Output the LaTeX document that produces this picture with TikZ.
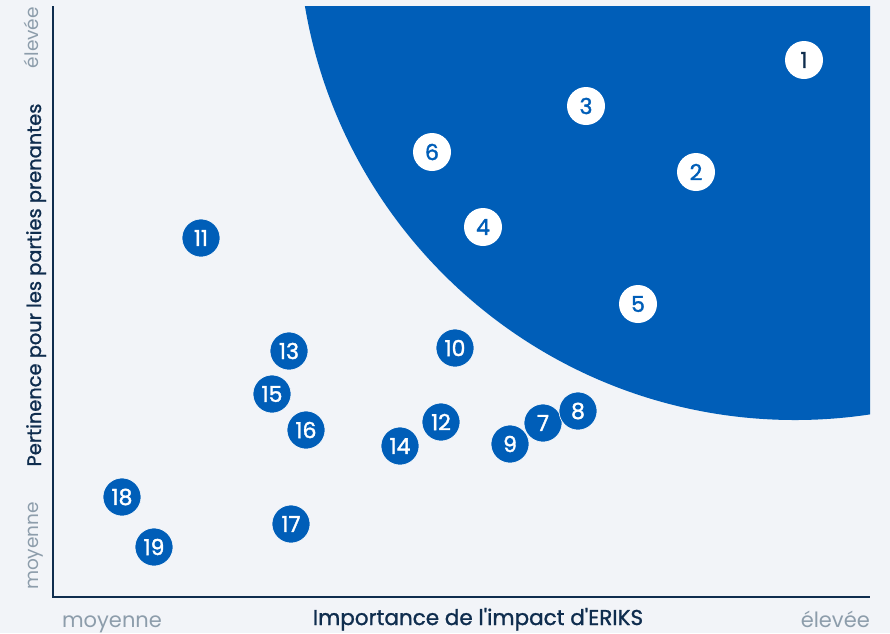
\documentclass[tikz,border=0pt]{standalone}
\usepackage{fontspec}
\setmainfont{Poppins}
\newfontfamily\medfont[FakeBold=1.2]{Poppins}
\newfontfamily\numfont[FakeBold=1.6]{Poppins}
\definecolor{bg}{HTML}{F2F4F8}
\definecolor{eblue}{HTML}{005EB8}
\definecolor{navy}{HTML}{0F2D4E}
\definecolor{grayl}{HTML}{8D9DAB}
\begin{document}
\begin{tikzpicture}[x=1pt,y=-1pt,
  dot/.style={circle,fill=eblue,draw=white,line width=0.6pt,minimum size=38pt,inner sep=0pt,text=white,font=\numfont\fontsize{22}{22}\selectfont},
  wdot/.style={circle,fill=white,minimum size=38pt,inner sep=0pt,text=eblue,font=\numfont\fontsize{22}{22}\selectfont},
  axlab/.style={text=navy,font=\medfont\fontsize{21.5}{21.5}\selectfont,inner sep=0pt,anchor=base},
  endlab/.style={text=grayl,font=\fontsize{21}{21}\selectfont,inner sep=0pt,anchor=base}]
\fill[bg] (0,0) rectangle (890,633);
\useasboundingbox (0,0) rectangle (890,633);
\begin{scope}
\clip (53,6) rectangle (870,597);
\fill[eblue] (795,-77) circle (497);
\end{scope}
\draw[navy,line width=1.2pt] (53,6) -- (53,597) -- (870,597);
% labels
\node[axlab] (xl) at (478,625) {Importance de l\textquotesingle impact d\textquotesingle ERIKS};
\node[endlab] (xlo) at (112,627) {moyenne};
\node[endlab,anchor=base east] (xhi) at (870,627) {élevée};
\node[axlab,rotate=90,font=\medfont\fontsize{19.4}{19.4}\selectfont] (yl) at (41,285) {Pertinence pour les parties prenantes};
\node[endlab,rotate=90,anchor=base east,font=\fontsize{18.5}{18.5}\selectfont] (yhi) at (38,7) {élevée};
\node[endlab,rotate=90,font=\fontsize{18.5}{18.5}\selectfont] (ylo) at (38,546) {moyenne};
% white dots
\node[wdot,text=navy] (n1) at (804,60) {1};
\node[wdot] (n3) at (586,106) {3};
\node[wdot] (n6) at (432,152) {6};
\node[wdot] (n2) at (696,172) {2};
\node[wdot] (n4) at (483,227) {4};
\node[wdot] (n5) at (638,304) {5};
% blue dots
\node[dot] (n11) at (201,238) {11};
\node[dot] (n13) at (289,351) {13};
\node[dot] (n10) at (455,348) {10};
\node[dot] (n15) at (272,394) {15};
\node[dot] (n16) at (306,430) {16};
\node[dot] (n12) at (441,422) {12};
\node[dot] (n14) at (400,446) {14};
\node[dot] (n9) at (510,444) {9};
\node[dot] (n7) at (543,423) {7};
\node[dot] (n8) at (578,411) {8};
\node[dot] (n18) at (122,497) {18};
\node[dot] (n19) at (154,547) {19};
\node[dot] (n17) at (291,524) {17};
\end{tikzpicture}
\end{document}
